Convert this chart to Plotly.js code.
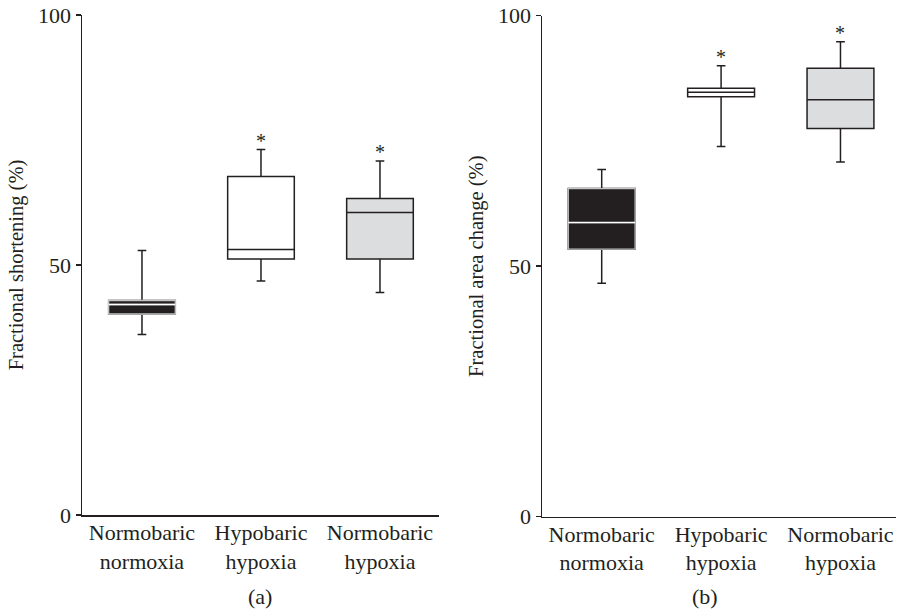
<!DOCTYPE html>
<html>
<head>
<meta charset="utf-8">
<script src="https://cdn.plot.ly/plotly-3.0.1.min.js"></script>
<style>html,body{margin:0;padding:0;background:#fff;}#chart{width:897px;height:616px;}</style>
</head>
<body>
<div id="chart"></div>
<script>
// ---- data ----
const categories = ['Normobaric<br>normoxia', 'Hypobaric<br>hypoxia', 'Normobaric<br>hypoxia'];
const positions = [0, 1, 2];
const significant = [false, true, true];

// (a) Fractional shortening (%)
const fsLower  = [36.1, 46.8, 44.5];
const fsQ1     = [40.2, 51.2, 51.2];
const fsMedian = [42.1, 53.1, 60.5];
const fsQ3     = [42.9, 67.7, 63.3];
const fsUpper  = [52.9, 73.1, 70.8];

// (b) Fractional area change (%)
const facLower  = [46.6, 73.9, 70.8];
const facQ1     = [53.4, 83.8, 77.5];
const facMedian = [58.7, 84.7, 83.2];
const facQ3     = [65.5, 85.5, 89.5];
const facUpper  = [69.3, 90.0, 94.8];

const yTicks = [0, 50, 100];
const panelLabels = ['(a)', '(b)'];
const yTitles = ['Fractional shortening (%)', 'Fractional area change (%)'];

// ---- styles ----
const ink = '#231f20';
const fills = ['#231f20', '#ffffff', '#dcdddf'];
const FONT = 'Liberation Serif, Times New Roman, serif';
const FS = 22;
const TFS = 20.5;
const BOXW = 0.56;

function panelTraces(lower, q1, med, q3, upper, xa, ya) {
  const tr = [];
  for (let i = 0; i < positions.length; i++) {
    tr.push({
      type: 'box', xaxis: xa, yaxis: ya,
      x: [positions[i]], q1: [q1[i]], median: [med[i]], q3: [q3[i]],
      lowerfence: [lower[i]], upperfence: [upper[i]],
      width: BOXW, whiskerwidth: 0.13,
      fillcolor: fills[i], line: {color: ink, width: 1.5},
      boxpoints: false, hoverinfo: 'skip', showlegend: false
    });
    if (fills[i] === ink) {
      // light outline of the dark box
      tr.push({
        type: 'box', xaxis: xa, yaxis: ya,
        x: [positions[i]], q1: [q1[i]], median: [med[i]], q3: [q3[i]],
        lowerfence: [q1[i]], upperfence: [q3[i]],
        width: BOXW, whiskerwidth: 0,
        fillcolor: ink, line: {color: '#c4c4c4', width: 1.3},
        boxpoints: false, hoverinfo: 'skip', showlegend: false
      });
      // white median
      tr.push({
        type: 'box', xaxis: xa, yaxis: ya,
        x: [positions[i]], q1: [med[i]], median: [med[i]], q3: [med[i]],
        lowerfence: [med[i]], upperfence: [med[i]],
        width: BOXW, whiskerwidth: 0,
        fillcolor: 'rgba(0,0,0,0)', line: {color: '#ffffff', width: 1.5},
        boxpoints: false, hoverinfo: 'skip', showlegend: false
      });
    }
  }
  return tr;
}

const data = [].concat(
  panelTraces(fsLower, fsQ1, fsMedian, fsQ3, fsUpper, 'x', 'y'),
  panelTraces(facLower, facQ1, facMedian, facQ3, facUpper, 'x2', 'y2')
);

function xAxis(domain, anchor, range) {
  return {
    domain: domain, anchor: anchor, range: range,
    tickvals: positions, ticktext: categories,
    showline: true, linecolor: ink, linewidth: 1.5,
    showgrid: false, zeroline: false, ticks: '',
    ticklabelstandoff: -3,
    tickfont: {family: FONT, size: FS, color: ink},
    fixedrange: true
  };
}
function yAxis(domain, anchor, title) {
  return {
    domain: domain, anchor: anchor, range: [0, 100],
    tickvals: yTicks, ticktext: yTicks.map(String),
    showline: true, linecolor: ink, linewidth: 1.5,
    showgrid: false, zeroline: false,
    ticks: 'outside', ticklen: 5, tickwidth: 1.5, tickcolor: ink,
    tickfont: {family: FONT, size: FS, color: ink},
    title: {text: title, font: {family: FONT, size: TFS, color: ink}, standoff: 9},
    fixedrange: true
  };
}

const annotations = [];
[[fsUpper, 'x', 'y'], [facUpper, 'x2', 'y2']].forEach(([up, xa, ya]) => {
  positions.forEach((p, i) => {
    if (significant[i]) {
      annotations.push({
        xref: xa, yref: ya, x: p, y: up[i], text: '*', showarrow: false,
        yanchor: 'bottom', yshift: -4,
        font: {family: FONT, size: 20, color: ink}
      });
    }
  });
});
const panelX = [260 / 897, 705 / 897];
panelLabels.forEach((t, i) => {
  annotations.push({
    xref: 'paper', yref: 'paper', x: panelX[i], y: 1 - 596 / 616,
    text: t, showarrow: false, xanchor: 'center', yanchor: 'middle',
    font: {family: FONT, size: FS, color: ink}
  });
});

const layout = {
  width: 897, height: 616,
  margin: {l: 0, r: 0, t: 0, b: 0},
  paper_bgcolor: '#ffffff', plot_bgcolor: '#ffffff',
  showlegend: false,
  boxmode: 'overlay',
  xaxis: xAxis([82 / 897, 439 / 897], 'y', [-0.504, 2.496]),
  yaxis: yAxis([1 - 515 / 616, 1 - 15 / 616], 'x', yTitles[0]),
  xaxis2: xAxis([542 / 897, 896 / 897], 'y2', [-0.5, 2.465]),
  yaxis2: yAxis([1 - 516.7 / 616, 1 - 15.7 / 616], 'x2', yTitles[1]),
  annotations: annotations
};

Plotly.newPlot('chart', data, layout, {staticPlot: true, displayModeBar: false});
</script>
</body>
</html>
